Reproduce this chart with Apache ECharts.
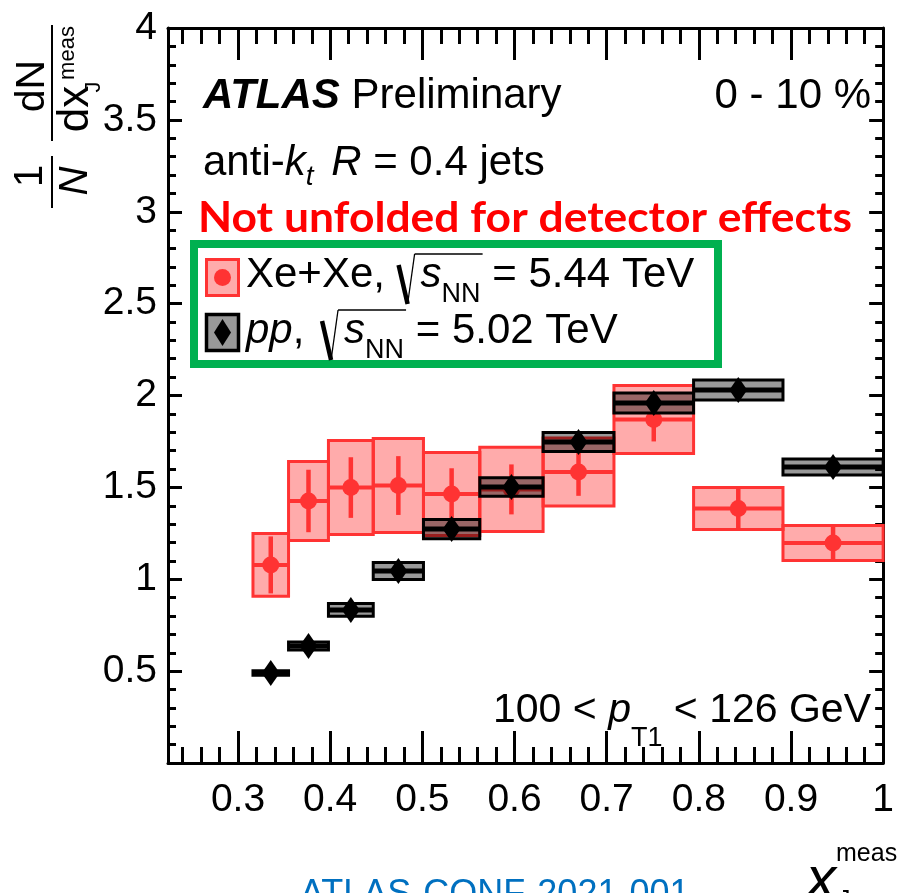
<!DOCTYPE html>
<html><head><meta charset="utf-8">
<script src="https://cdn.jsdelivr.net/npm/echarts@6/dist/echarts.min.js"></script>
<style>html,body{margin:0;padding:0;background:#fff}#c{width:897px;height:893px}</style>
</head><body><div id="c"></div>
<script>
// ---------------- data ----------------
const binLow  = [0.3162, 0.3548, 0.3981, 0.4467, 0.5012, 0.5623, 0.6310, 0.7079, 0.7943, 0.8913];
const binHigh = [0.3548, 0.3981, 0.4467, 0.5012, 0.5623, 0.6310, 0.7079, 0.7943, 0.8913, 1.0000];
const xexeVal  = [1.078, 1.426, 1.499, 1.510, 1.464, 1.489, 1.584, 1.870, 1.385, 1.197];
const xexeStat = [0.155, 0.170, 0.165, 0.160, 0.140, 0.136, 0.130, 0.120, 0.110, 0.093];
const xexeSys  = [0.171, 0.215, 0.256, 0.256, 0.226, 0.229, 0.185, 0.185, 0.114, 0.095];
const ppVal = [0.490, 0.637, 0.833, 1.045, 1.273, 1.502, 1.747, 1.959, 2.030, 1.611];
const ppSys = [0.012, 0.022, 0.035, 0.046, 0.052, 0.050, 0.052, 0.054, 0.054, 0.044];
const xMajorTicks = [0.3, 0.4, 0.5, 0.6, 0.7, 0.8, 0.9, 1.0];
const xMajorLabels = ['0.3', '0.4', '0.5', '0.6', '0.7', '0.8', '0.9', '1'];
const xRange = [0.224, 1.0];
const yRange = [0, 4];
const yStep = 0.5;

// ---------------- helpers ----------------
const FF = "'Liberation Sans', Arial, Helvetica, sans-serif";
const mctx = document.createElement('canvas').getContext('2d');
function fontStr(p) { return (p.italic ? 'italic ' : '') + (p.bold ? 'bold ' : '') + p.size + 'px ' + (p.family || FF); }
function midOffset(font) {
  mctx.font = font; mctx.textBaseline = 'middle';
  const m = mctx.measureText('H'); mctx.textBaseline = 'alphabetic';
  const v = m.actualBoundingBoxDescent;
  return (typeof v === 'number' && isFinite(v)) ? v : 0.35 * parseFloat(font.match(/(\d+)px/)[1]);
}
function sqrtEls(x, B, end, color) {
  const c = color || '#000';
  return [
    {type: 'line', silent: true, shape: {x1: x + 2, y1: B - 22, x2: x + 11, y2: B + 17}, style: {stroke: c, lineWidth: 4.5}},
    {type: 'line', silent: true, shape: {x1: x + 11, y1: B + 17, x2: x + 18, y2: B - 33}, style: {stroke: c, lineWidth: 1.3}},
    {type: 'line', silent: true, shape: {x1: x + 18, y1: B - 33, x2: end + 2, y2: B - 33}, style: {stroke: c, lineWidth: 1.3}}
  ];
}
function layoutRuns(x0, base, parts, align, color) {
  parts.forEach(p => {
    if (p.t !== undefined) { p.font = fontStr(p); mctx.font = p.font; p.w = mctx.measureText(p.t).width; }
    else if (p.sqrt) p.w = 24; else p.w = p.gap || 0;
  });
  const total = parts.reduce((s, p) => s + p.w, 0);
  let x = align === 'right' ? x0 - total : x0;
  parts.forEach(p => { p.x = x; x += p.w; });
  const els = [];
  parts.forEach((p, i) => {
    if (p.t !== undefined) {
      els.push({type: 'text', silent: true, x: p.x, y: base + (p.dy || 0) - midOffset(p.font),
        style: {text: p.t, font: p.font, fill: p.color || color || '#000', align: 'left', verticalAlign: 'middle', textAlign: 'left', textVerticalAlign: 'middle'}});
    } else if (p.sqrt) {
      const q = parts[i + p.span];
      els.push(...sqrtEls(p.x, base, q.x + q.w, color));
    }
  });
  return els;
}
function rotText(cx, cy, text, size, italic) {
  return {type: 'text', silent: true, x: cx, y: cy, rotation: Math.PI / 2,
    style: {text: text, font: (italic ? 'italic ' : '') + size + 'px ' + FF, fill: '#000', align: 'center', verticalAlign: 'middle', textAlign: 'center', textVerticalAlign: 'middle'}};
}

// minor ticks
const xMinorTicks = [];
for (let k = 12; k <= 50; k++) { const v = k / 50; if (k % 5 !== 0 && v > xRange[0]) xMinorTicks.push(+v.toFixed(2)); }

// ---------------- graphics (text) ----------------
const g = [];
g.push(...layoutRuns(203, 108, [{t: 'ATLAS', size: 42, italic: true, bold: true}, {t: ' Preliminary', size: 42}]));
g.push(...layoutRuns(871, 108, [{t: '0 - 10 %', size: 42}], 'right'));
g.push(...layoutRuns(203, 175, [{t: 'anti-', size: 42}, {t: 'k', size: 42, italic: true}, {t: 't', size: 28, italic: true, dy: 10}, {gap: 6}, {t: ' ', size: 42}, {t: 'R', size: 42, italic: true}, {t: ' = 0.4 jets', size: 42}]));
// red title, scaled to width
(function () {
  const f = 'bold 42px Lato, "Open Sans", sans-serif';
  mctx.font = f; const w = mctx.measureText('Not unfolded for detector effects').width;
  g.push({type: 'text', silent: true, x: 198, y: 232 - midOffset(f), scaleX: 654 / w,
    style: {text: 'Not unfolded for detector effects', font: f, fill: '#ff0000', align: 'left', verticalAlign: 'middle', textAlign: 'left', textVerticalAlign: 'middle'}});
})();
// legend frame
g.push({type: 'rect', silent: true, shape: {x: 194, y: 244, width: 524, height: 120}, style: {fill: 'none', stroke: '#00b050', lineWidth: 8}});
g.push({type: 'rect', silent: true, shape: {x: 206.5, y: 259.5, width: 32, height: 36}, style: {fill: 'rgba(255,0,0,0.33)', stroke: '#ff3333', lineWidth: 3}});
g.push({type: 'circle', silent: true, shape: {cx: 222.5, cy: 277.5, r: 8.5}, style: {fill: '#ff3333'}});
g.push({type: 'rect', silent: true, shape: {x: 206.5, y: 314.5, width: 32, height: 36}, style: {fill: 'rgba(0,0,0,0.4)', stroke: '#000', lineWidth: 3.5}});
g.push({type: 'polygon', silent: true, shape: {points: [[222.5, 319], [231, 332.5], [222.5, 346], [214, 332.5]]}, style: {fill: '#000'}});
g.push(...layoutRuns(246, 287, [{t: 'Xe+Xe, ', size: 42}, {sqrt: true, span: 2}, {t: 's', size: 42, italic: true}, {t: 'NN', size: 27, dy: 15}, {t: ' = 5.44 TeV', size: 42}]));
g.push(...layoutRuns(246, 343, [{t: 'pp', size: 42, italic: true}, {t: ', ', size: 42}, {gap: 4}, {sqrt: true, span: 2}, {t: 's', size: 42, italic: true}, {t: 'NN', size: 27, dy: 15}, {t: ' = 5.02 TeV', size: 42}]));
// pT range
g.push(...layoutRuns(871, 722, [{t: '100 < ', size: 41}, {t: 'p', size: 41, italic: true}, {t: 'T1', size: 27, dy: 24}, {t: ' < 126 GeV', size: 41}], 'right'));
// y title (rotated)
g.push(rotText(31, 176, '1', 40));
g.push({type: 'line', silent: true, shape: {x1: 52, y1: 156, x2: 52, y2: 208}, style: {stroke: '#000', lineWidth: 2}});
g.push(rotText(76, 181, 'N', 40, true));
g.push(rotText(33, 86, 'dN', 41));
g.push({type: 'line', silent: true, shape: {x1: 52, y1: 25, x2: 52, y2: 141}, style: {stroke: '#000', lineWidth: 2}});
g.push(rotText(76, 109, 'dx', 44));
g.push(rotText(68, 53, 'meas', 22));
g.push(rotText(94, 87, 'J', 22));
// x title
g.push(...layoutRuns(806, 898, [{t: 'x', size: 60, italic: true}]));
g.push(...layoutRuns(836, 861, [{t: 'meas', size: 25}]));
g.push(...layoutRuns(838, 908, [{t: 'J', size: 25}]));
// conf note
g.push(...layoutRuns(300, 905, [{t: 'ATLAS-CONF-2021-001', size: 36, color: '#0070c0'}]));

// ---------------- chart ----------------
const chart = echarts.init(document.getElementById('c'), null, {renderer: 'canvas'});
const axisLine = {show: true, onZero: false, lineStyle: {color: '#000', width: 3}};
const noLine = {show: false, onZero: false};
const labelFont = {color: '#000', fontSize: 39, fontFamily: FF};
function xAx(pos, ticks, len, labels, line) {
  return {type: 'value', position: pos, min: xRange[0], max: xRange[1], gridIndex: 0,
    axisLine: line ? axisLine : noLine,
    axisTick: {show: true, inside: true, length: len, customValues: ticks, lineStyle: {color: '#000', width: 3}},
    axisLabel: labels ? Object.assign({show: true, margin: 18, customValues: xMajorTicks,
      formatter: v => { const i = xMajorTicks.findIndex(t => Math.abs(t - v) < 1e-6); return i >= 0 ? xMajorLabels[i] : ''; }}, labelFont) : {show: false},
    splitLine: {show: false}};
}
function yAx(pos, labels) {
  return {type: 'value', position: pos, min: yRange[0], max: yRange[1], interval: yStep,
    axisLine: axisLine,
    axisTick: {show: true, inside: true, length: 14, lineStyle: {color: '#000', width: 3}},
    minorTick: {show: true, splitNumber: 5, length: 8, lineStyle: {color: '#000', width: 3}},
    axisLabel: labels ? Object.assign({show: true, margin: 11, showMinLabel: false}, labelFont) : {show: false},
    splitLine: {show: false}, minorSplitLine: {show: false}};
}
const idx = binLow.map((_, i) => i);
function boxSeries(vals, errs, fill, stroke, lw, z) {
  return {type: 'custom', z: z, xAxisIndex: 0, yAxisIndex: 0, silent: true,
    data: idx.map(i => [binLow[i], binHigh[i], vals[i], errs[i]]), encode: {x: [0, 1], y: 2},
    renderItem: (p, api) => {
      const lo = api.value(0), hi = api.value(1), v = api.value(2), e = api.value(3);
      const a = api.coord([lo, v + e]), b = api.coord([hi, v - e]);
      return {type: 'rect', shape: {x: a[0], y: a[1], width: b[0] - a[0], height: b[1] - a[1]}, style: {fill: fill, stroke: stroke, lineWidth: lw}};
    }};
}
function barSeries(vals, errs, color, hw, vw, z) {
  return {type: 'custom', z: z, xAxisIndex: 0, yAxisIndex: 0, silent: true,
    data: idx.map(i => [binLow[i], binHigh[i], vals[i], errs ? errs[i] : 0]), encode: {x: [0, 1], y: 2},
    renderItem: (p, api) => {
      const lo = api.value(0), hi = api.value(1), v = api.value(2), s = api.value(3);
      const l = api.coord([lo, v]), r = api.coord([hi, v]);
      const ch = [{type: 'line', shape: {x1: l[0], y1: l[1], x2: r[0], y2: r[1]}, style: {stroke: color, lineWidth: hw}}];
      if (s > 0) {
        const c = api.coord([(lo + hi) / 2, v + s]), d = api.coord([(lo + hi) / 2, v - s]);
        ch.push({type: 'line', shape: {x1: c[0], y1: c[1], x2: d[0], y2: d[1]}, style: {stroke: color, lineWidth: vw}});
      }
      return {type: 'group', children: ch};
    }};
}
const option = {
  animation: false,
  backgroundColor: '#fff',
  grid: {left: 168, right: 9, top: 28, bottom: 130, containLabel: false},
  xAxis: [xAx('bottom', xMajorTicks, 32, true, true), xAx('bottom', xMinorTicks, 16, false, false),
          xAx('top', xMajorTicks, 32, false, true), xAx('top', xMinorTicks, 16, false, false)],
  yAxis: [yAx('left', true), yAx('right', false)],
  graphic: {elements: g},
  series: [
    boxSeries(xexeVal, xexeSys, 'rgba(255,0,0,0.33)', '#ff3333', 3, 2),
    barSeries(xexeVal, xexeStat, '#ff3333', 4, 4.5, 3),
    {type: 'scatter', z: 4, xAxisIndex: 0, yAxisIndex: 0, silent: true, symbol: 'circle', symbolSize: 17,
      itemStyle: {color: '#ff3333', opacity: 1}, data: idx.map(i => [(binLow[i] + binHigh[i]) / 2, xexeVal[i]])},
    boxSeries(ppVal, ppSys, 'rgba(0,0,0,0.4)', '#000', 3, 5),
    barSeries(ppVal, null, '#000', 5, 0, 6),
    {type: 'scatter', z: 7, xAxisIndex: 0, yAxisIndex: 0, silent: true, symbol: 'diamond', symbolSize: [18, 26],
      itemStyle: {color: '#000', opacity: 1}, data: idx.map(i => [(binLow[i] + binHigh[i]) / 2, ppVal[i]])}
  ]
};
chart.setOption(option);
</script></body></html>
